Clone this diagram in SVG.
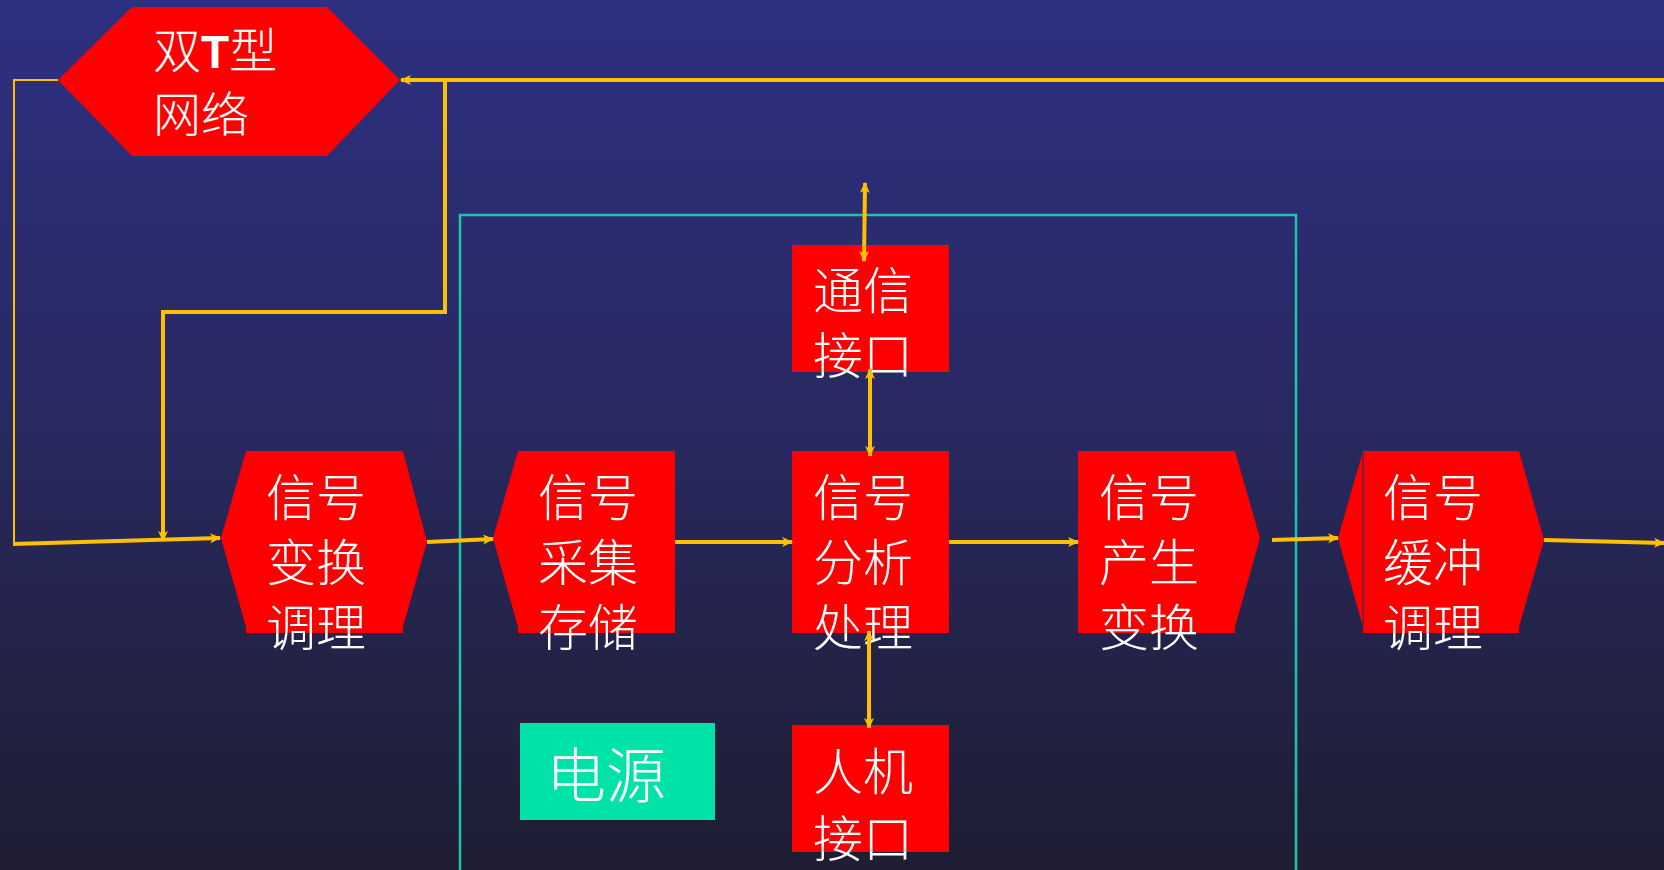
<svg xmlns="http://www.w3.org/2000/svg" width="1664" height="870" viewBox="0 0 1664 870">
<defs>
<linearGradient id="bg" x1="0" y1="0" x2="0" y2="1">
<stop offset="0" stop-color="#2E3082"/>
<stop offset="0.5" stop-color="#28295F"/>
<stop offset="1" stop-color="#1E1D33"/>
</linearGradient>
<marker id="ah" viewBox="0 0 10 10" refX="9" refY="5" markerWidth="13" markerHeight="11" markerUnits="userSpaceOnUse" orient="auto-start-reverse">
<path d="M0,0.5 L10,5 L0,9.5 L2.5,5 z" fill="#FFC000"/>
</marker>
<style>
.n{fill:#FF0000;}
.t{font-family:"Noto Sans CJK SC","Liberation Sans",sans-serif;fill:#FFFFFF;font-size:50px;font-weight:300;}
.c{fill:none;stroke:#FFC000;stroke-width:4;}
.thin{fill:none;stroke:#FFC000;stroke-width:2;}
</style>
</defs>
<rect x="0" y="0" width="1664" height="870" fill="url(#bg)"/>
<rect x="460" y="215" width="836" height="700" fill="none" stroke="#1BC8A5" stroke-width="2.5"/>

<g id="n-twinT">
<polygon class="n" points="58,80 132,7 327,7 400,80 327,156 132,156"/>
<text class="t" x="153" y="68" style="font-size:48px">双<tspan font-family="Liberation Sans" font-weight="bold" font-size="46">T</tspan>型</text>
<text class="t" x="153" y="132" style="font-size:48px">网络</text>
</g>
<g id="n-cond">
<polygon class="n" points="221,538 246,451 403,451 427,542 403,627 403,633 246,633 246,627"/>
<text class="t" x="266" y="516">信号</text>
<text class="t" x="266" y="581">变换</text>
<text class="t" x="266" y="646">调理</text>
</g>
<g id="n-acq">
<polygon class="n" points="493,538 518,451 675,451 675,633 518,633 518,627"/>
<text class="t" x="538" y="516">信号</text>
<text class="t" x="538" y="581">采集</text>
<text class="t" x="538" y="646">存储</text>
</g>
<g id="n-comm">
<rect class="n" x="792" y="245" width="157" height="127"/>
<text class="t" x="813" y="309">通信</text>
<text class="t" x="813" y="374">接口</text>
</g>
<g id="n-proc">
<rect class="n" x="792" y="451" width="157" height="182"/>
<text class="t" x="813" y="516">信号</text>
<text class="t" x="813" y="581">分析</text>
<text class="t" x="813" y="646">处理</text>
</g>
<g id="n-gen">
<polygon class="n" points="1078,451 1235,451 1260,538 1235,627 1235,633 1078,633"/>
<text class="t" x="1099" y="516">信号</text>
<text class="t" x="1099" y="581">产生</text>
<text class="t" x="1099" y="646">变换</text>
</g>
<g id="n-buf">
<polygon class="n" points="1338,538 1363,451 1363,633 1363,627"/>
<polygon class="n" points="1363,451 1519,451 1544,540 1519,627 1519,633 1363,633"/>
<line x1="1363" y1="452" x2="1363" y2="626" stroke="#2A2A66" stroke-width="1.2"/>
<text class="t" x="1383" y="516">信号</text>
<text class="t" x="1383" y="581">缓冲</text>
<text class="t" x="1383" y="646">调理</text>
</g>
<g id="n-hmi">
<rect class="n" x="792" y="725" width="157" height="127"/>
<text class="t" x="813" y="790">人机</text>
<text class="t" x="813" y="857">接口</text>
</g>
<g id="n-power">
<rect x="520" y="723" width="195" height="97" fill="#00E3A8"/>
<text class="t" x="546" y="798" style="font-size:60px">电源</text>
</g>

<g id="connectors">
<polyline class="c" points="1664,80 401,80" marker-end="url(#ah)"/>
<polyline class="c" points="445,80 445,312 163,312 163,541" marker-end="url(#ah)"/>
<polyline class="thin" points="58,80 14,80 14,544"/>
<line class="c" x1="13" y1="544" x2="220" y2="538" marker-end="url(#ah)"/>
<line class="c" x1="427" y1="542" x2="493" y2="539" marker-end="url(#ah)"/>
<line class="c" x1="675" y1="542" x2="792" y2="542" marker-end="url(#ah)"/>
<line class="c" x1="949" y1="542" x2="1078" y2="542" marker-end="url(#ah)"/>
<line class="c" x1="1272" y1="540" x2="1338" y2="538" marker-end="url(#ah)"/>
<line class="c" x1="1544" y1="540" x2="1664" y2="543" marker-end="url(#ah)"/>
<line class="c" x1="865" y1="183" x2="864" y2="261" marker-start="url(#ah)" marker-end="url(#ah)"/>
<line class="c" x1="870" y1="369" x2="870" y2="456" marker-start="url(#ah)" marker-end="url(#ah)"/>
<line class="c" x1="869" y1="631" x2="869" y2="728" marker-start="url(#ah)" marker-end="url(#ah)"/>
</g>
</svg>
